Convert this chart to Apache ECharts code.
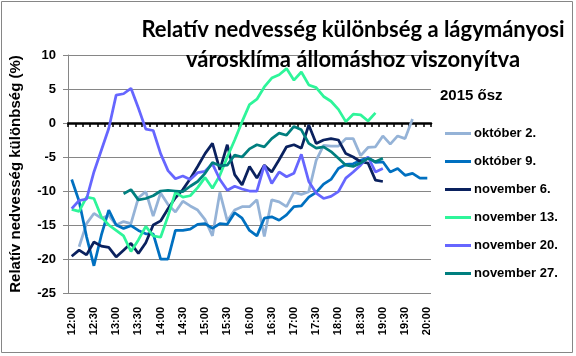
<!DOCTYPE html>
<html><head><meta charset="utf-8">
<script src="https://cdn.jsdelivr.net/npm/echarts@6/dist/echarts.min.js"></script>
<style>html,body{margin:0;padding:0;background:#fff}#c{width:576px;height:356px}</style>
</head><body><div id="c"></div>
<script>
var times = ["12:00","12:10","12:20","12:30","12:40","12:50","13:00","13:10","13:20","13:30","13:40","13:50","14:00","14:10","14:20","14:30","14:40","14:50","15:00","15:10","15:20","15:30","15:40","15:50","16:00","16:10","16:20","16:30","16:40","16:50","17:00","17:10","17:20","17:30","17:40","17:50","18:00","18:10","18:20","18:30","18:40","18:50","19:00","19:10","19:20","19:30","19:40","19:50","20:00"];
var seriesNames = ["október 2.","október 9.","november 6.","november 13.","november 20.","november 27."];
var okt2 = [null,-18.2,-14.8,-13.3,-14.0,-13.6,-15.0,-14.5,-14.8,-11.0,-10.1,-13.7,-10.3,-12.0,-13.1,-11.5,-12.2,-12.8,-14.2,-16.6,-10.2,-14.4,-12.8,-12.3,-12.3,-11.3,-16.7,-11.3,-11.6,-12.3,-10.2,-10.5,-10.1,-5.5,-3.3,-3.4,-3.4,-2.3,-2.3,-4.8,-3.6,-3.5,-1.9,-3.1,-1.9,-2.3,0.6,null,null];
var okt9 = [-8.3,-11.5,-16.7,-21.0,-16.5,-12.8,-15.0,-15.5,-15.1,-15.8,-16.3,-16.3,-20.0,-20.0,-15.8,-15.8,-15.6,-14.9,-14.8,-15.5,-14.8,-14.9,-13.2,-14.0,-15.8,-16.6,-14.0,-13.8,-14.3,-13.5,-12.3,-12.2,-10.9,-10.2,-9.0,-8.3,-6.7,-6.1,-6.0,-5.5,-5.1,-5.8,-5.7,-7.2,-6.7,-7.7,-7.4,-8.1,-8.1];
var nov6 = [-19.6,-18.7,-19.4,-17.5,-18.1,-18.3,-19.7,-18.7,-17.7,-19.2,-17.6,-15.0,-14.4,-12.6,-11.0,-9.8,-8.2,-6.4,-4.5,-3.0,-6.9,-3.2,-7.6,-9.1,-6.4,-8.1,-6.2,-7.2,-5.4,-3.5,-3.2,-3.7,-0.3,-3.0,-2.5,-2.3,-2.5,-4.5,-5.0,-5.7,-5.9,-8.4,-8.6,null,null,null,null,null,null];
var nov13 = [-12.7,-13.0,-10.9,-11.1,-13.8,-15.0,-15.8,-16.6,-18.9,-17.2,-15.2,-16.6,-16.8,-13.7,-10.2,-10.9,-10.7,-9.5,-8.0,-9.6,-7.7,-5.0,-2.5,0.2,2.7,3.5,5.3,6.6,7.1,8.0,6.3,7.5,5.6,5.2,3.9,3.2,2.0,0.2,1.3,1.2,0.3,1.5,null,null,null,null,null,null,null];
var nov20 = [-12.6,-11.4,-11.2,-7.2,-4.0,-0.8,4.1,4.3,5.1,2.2,-0.9,-1.1,-4.5,-7.0,-8.2,-7.8,-8.3,-7.3,-7.1,-6.0,-8.3,-9.9,-9.3,-9.7,-10.0,-10.0,-6.2,-8.9,-7.2,-7.9,-7.4,-4.6,-8.6,-10.3,-11.1,-10.8,-10.1,-8.1,-7.2,-6.2,-5.0,-7.2,-6.7,null,null,null,null,null,null];
var nov27 = [null,null,null,null,null,null,null,-10.4,-9.8,-11.3,-11.1,-10.7,-10.0,-9.9,-10.0,-10.1,-9.3,-8.6,-7.4,-5.8,-6.3,-6.2,-4.7,-5.0,-3.8,-3.2,-3.5,-2.3,-1.5,-1.8,-0.5,-1.0,-3.0,-3.7,-3.5,-4.2,-5.2,-6.2,-6.4,-5.9,-5.2,-5.7,-5.2,null,null,null,null,null,null];
var colors = ["#95B3D7","#0070C0","#0A215E","#2EF59A","#6666FF","#007F7F"];
var yTicks = {min:-25, max:10, interval:5};

var allData = [okt2, okt9, nov6, nov13, nov20, nov27];
var chart = echarts.init(document.getElementById('c'), null, {renderer:'canvas'});
var series = allData.map(function(d, k){
  return {name: seriesNames[k], type:'line', xAxisIndex:0, data:d, showSymbol:false, symbol:'none',
    connectNulls:false, lineStyle:{color:colors[k], width:2.75}, itemStyle:{color:colors[k]}, animation:false};
});
chart.setOption({
  animation:false,
  title:{text:"Relatív nedvesség különbség a lágymányosi\nvárosklíma állomáshoz viszonyítva", left:348, top:10, textAlign:'center',
    textStyle:{fontFamily:'Lato', fontWeight:'bold', fontSize:22, lineHeight:30, color:'#000'}},
  graphic:[
    {type:'rect', shape:{x:1.5,y:1.5,width:571,height:351}, style:{fill:null, stroke:'#868686', lineWidth:1}, silent:true},
    {type:'text', left:440, top:88, style:{text:'2015 ősz', font:'bold 15px "Liberation Sans"', fill:'#000'}}
  ],
  legend:{orient:'vertical', left:440, top:122, icon:'rect', itemWidth:26, itemHeight:3, itemGap:15,
    textStyle:{fontFamily:'Liberation Sans', fontWeight:'bold', fontSize:13, color:'#000', padding:[0,0,0,-2]},
    data:seriesNames},
  grid:{left:68, right:145, top:55, bottom:63, containLabel:false},
  xAxis:[
    {type:'category', data:times, boundaryGap:true, position:'bottom',
      axisLine:{show:false, onZero:false}, axisTick:{show:false}, splitLine:{show:false},
      axisLabel:{interval:2, rotate:90, margin:14, fontFamily:'Liberation Sans', fontWeight:'bold', fontSize:11, color:'#000'}},
    {type:'category', data:times, boundaryGap:true, position:'bottom',
      axisLine:{show:true, onZero:true, lineStyle:{color:'#000', width:2.5}},
      axisTick:{show:true, interval:0, length:4, lineStyle:{color:'#000', width:1.5}},
      axisLabel:{show:false}, splitLine:{show:false}}
  ],
  yAxis:{type:'value', min:yTicks.min, max:yTicks.max, interval:yTicks.interval,
    name:'Relatív nedvesség különbség (%)', nameLocation:'middle', nameGap:45, nameRotate:90,
    nameTextStyle:{fontFamily:'Liberation Sans', fontWeight:'bold', fontSize:15, color:'#000'},
    axisLine:{show:true, lineStyle:{color:'#868686', width:1}},
    axisTick:{show:true, length:5, lineStyle:{color:'#868686'}},
    splitLine:{show:true, lineStyle:{color:'#868686', width:1}},
    axisLabel:{margin:12, fontFamily:'Liberation Sans', fontWeight:'bold', fontSize:13, color:'#000'}},
  series:series
});
</script></body></html>
